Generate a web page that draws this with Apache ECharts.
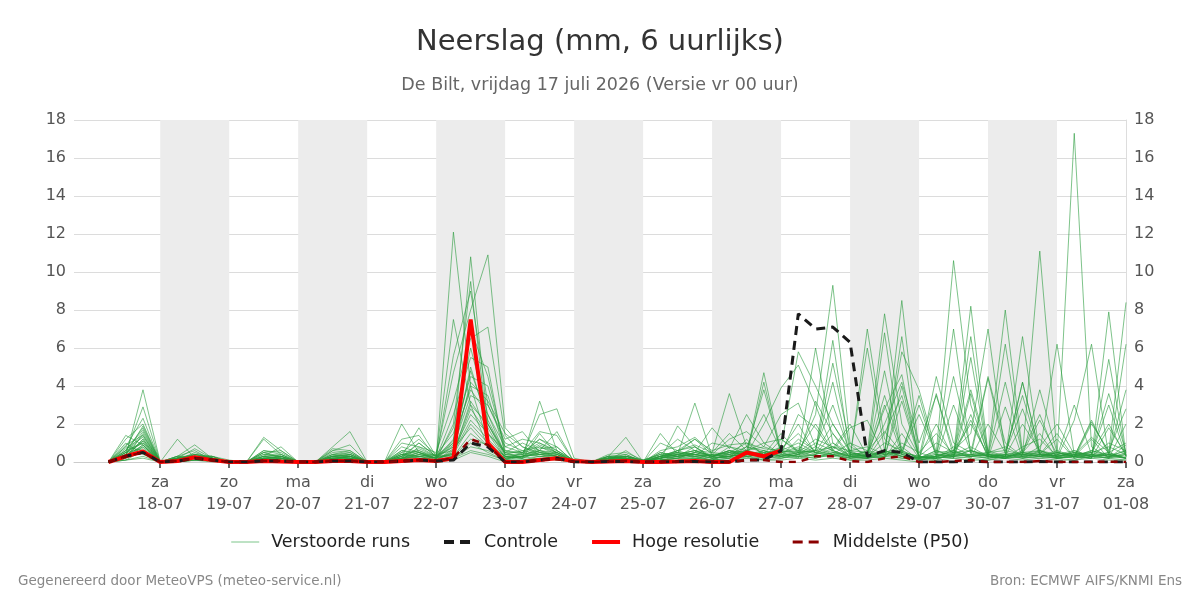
<!DOCTYPE html>
<html>
<head>
<meta charset="utf-8">
<title>Neerslag</title>
<script src="https://cdn.jsdelivr.net/npm/echarts@6/dist/echarts.min.js"></script>
<style>
  html, body { margin: 0; padding: 0; background: #fff; }
  #chart { width: 1200px; height: 600px; }
</style>
</head>
<body>
<div id="chart"></div>
<script>
// 6-hourly steps, first value = vr 17-07 06:00 UTC
const weekdays = ['zo', 'ma', 'di', 'wo', 'do', 'vr', 'za'];
const shadedDays = ['2026-07-18', '2026-07-20', '2026-07-22', '2026-07-24', '2026-07-26', '2026-07-28', '2026-07-30'];

// Hoge resolutie (runs until 27-07 00:00)
const hres = [0,0.3,0.55,0, 0.05,0.25,0.1,0, 0,0.05,0.02,0, 0,0.05,0.05,0, 0,0.05,0.1,0.05,
  0.2,7.5,1.0,0, 0,0.1,0.2,0.05, 0,0.02,0.05,0, 0,0.02,0.05,0, 0,0.5,0.3,0.6];

// Controle
const controle = [0,0.3,0.5,0, 0.05,0.2,0.1,0, 0,0.05,0.05,0, 0,0.05,0.05,0, 0,0.05,0.1,0.05,
  0.1,1.0,0.8,0, 0,0.1,0.2,0, 0,0.02,0.02,0, 0,0.02,0.02,0, 0,0.1,0.1,0.6,
  7.8,7.0,7.1,6.3, 0.3,0.6,0.5,0, 0,0,0.05,0, 0,0,0.02,0, 0,0,0,0];

// Middelste (P50)
const p50 = [0,0.3,0.5,0, 0.05,0.2,0.1,0, 0,0.05,0.05,0, 0,0.05,0.05,0, 0,0.05,0.1,0.05,
  0.2,1.2,0.9,0, 0,0.1,0.15,0, 0,0.02,0.05,0, 0,0.02,0.02,0, 0,0.1,0.1,0,
  0,0.3,0.3,0.05, 0,0.2,0.3,0, 0,0.05,0.1,0, 0,0,0.05,0, 0,0,0.02,0];

// Verstoorde runs
const perturbedRuns = [
  [0,0.3,3.8,0, 0.1,0.3,0.1,0, 0,0.2,0.1,0, 0,0.3,0.2,0, 0,0.4,0.3,0.1, 12.1,4.0,1.0,0.2, 0.3,0.8,0.5,0, 0,0.1,0.2,0, 0.2,0.4,0.3,0.1, 0.5,1.0,0.4,0.8, 5.8,4.0,2.0,0.5, 0.3,1.0,0.6,0.2, 0.5,10.6,3.0,0.4, 0.2,0.8,1.2,0.3, 0.5,0.3,1.0,0.6],
  [0,0.5,2.9,0, 1.2,0.2,0.1,0, 0,0.5,0.3,0, 0,0.1,0.2,0, 0,2.0,0.5,0.2, 1.0,10.8,2.0,0.3, 0.2,1.5,0.4,0, 0,0.2,0.1,0, 0.1,1.9,0.8,0.2, 0.3,0.6,0.2,1.2, 0.5,2.5,9.3,1.0, 0.2,0.5,0.8,0.1, 0.3,0.6,1.5,7.0, 0.4,0.2,0.6,0.2, 0.3,2.1,0.5,8.4],
  [0,0.8,2.3,0, 0.3,0.9,0.2,0, 0,1.3,0.6,0, 0,0.2,0.1,0, 0,0.3,1.8,0.3, 7.5,3.0,0.8,0.1, 0.5,0.3,0.2,0, 0,0.3,1.3,0, 0.3,0.5,0.4,0.2, 0.8,0.4,4.7,0.5, 0.3,0.4,1.5,0.2, 7.0,1.2,0.4,0.1, 0.2,0.4,8.2,0.5, 0.8,0.3,0.4,0.3, 17.3,0.8,0.2,0.4],
  [0,1.4,0.9,0, 0.2,0.3,0.3,0.1, 0,0.1,0.2,0, 0,0.8,1.6,0, 0,0.4,0.2,0.1, 2.0,9.5,1.5,0.5, 0.2,3.2,0.6,0.1, 0,0.1,0.2,0, 1.5,0.4,3.1,0.3, 0.4,0.8,0.6,0.3, 1.2,0.6,6.4,0.4, 0.5,7.8,2.0,0.3, 0.1,0.5,0.3,4.4, 0.6,0.4,0.5,6.2, 0.4,0.5,2.0,0.3],
  [0,1.2,2.0,0, 0.1,0.4,0.2,0, 0,0.3,0.8,0, 0,0.6,0.9,0, 0,1.2,1.4,0.2, 5.6,9.0,3.0,1.2, 1.6,0.5,0.3,0, 0,0.2,0.3,0.1, 0.4,1.2,0.6,0.5, 3.6,0.8,0.5,0.2, 0.4,6.0,1.0,0.3, 0.6,0.4,8.5,0.5, 0.2,0.3,0.6,0.4, 8.0,0.5,0.3,0.2, 0.6,0.3,0.5,0.2],
  [0,0.6,1.8,0, 0.2,0.2,0.1,0, 0,1.2,0.4,0, 0,0.3,0.5,0, 0,0.2,1.0,0.3, 4.7,8.0,10.9,1.8, 0.8,0.4,0.3,0, 0,0.1,0.1,0, 0.5,0.3,0.4,0.3, 0.6,0.5,0.3,0.6, 1.0,0.5,0.8,0.3, 6.0,0.6,0.3,0.2, 4.5,1.0,0.5,0.3, 0.2,6.6,0.4,0.3, 0.2,0.4,0.3,0.2],
  [0,0.4,1.6,0, 0.1,0.3,0.2,0, 0,0.6,0.5,0, 0,0.2,0.3,0, 0,0.1,0.8,0.5, 3.2,6.5,7.1,1.4, 0.4,2.5,2.8,0.2, 0,0.2,0.3,0, 0.3,0.6,0.8,0.3, 0.5,0.4,2.0,3.9, 5.1,3.0,0.6,0.3, 0.2,6.8,0.5,0.3, 0.2,7.0,0.4,0.2, 0.3,0.4,11.1,0.5, 0.3,0.6,0.3,0.4],
  [0,0.9,1.4,0, 0.2,0.2,0.2,0, 0,0.1,0.2,0, 0,0.4,0.6,0, 0,0.6,0.4,0.2, 2.5,5.5,5.0,0.3, 0.2,0.6,0.5,0, 0,0.4,0.5,0.1, 0.2,0.3,0.5,1.8, 0.7,2.5,1.0,0.4, 0.3,0.6,5.2,0.8, 0.4,0.5,6.6,0.2, 0.6,0.3,6.6,0.4, 0.3,4.2,0.5,0.3, 0.4,0.2,5.4,0.3],
  [0,0.2,1.2,0, 0,0.4,0.3,0, 0,0.2,0.1,0, 0,0.1,0.4,0, 0,0.2,0.3,0.4, 1.5,4.5,4.0,0.8, 1.2,1.0,0.6,0.1, 0,0.2,0.2,0, 0.6,0.8,1.3,0.5, 1.5,0.6,3.8,0.5, 0.2,0.4,0.7,2.0, 0.3,0.5,5.8,3.8, 0.5,0.6,0.3,0.4, 0.2,0.5,0.4,0.3, 3.0,0.4,0.2,6.2],
  [0,0.5,1.0,0, 0.2,0.7,0.2,0, 0,0.4,0.3,0, 0,0.3,0.2,0, 0,0.3,0.6,0.3, 1.0,4.0,3.5,0.5, 0.5,1.6,1.4,0, 0,0.3,0.4,0, 0.1,0.2,0.5,0.4, 0.3,0.4,0.2,0.8, 0.4,1.0,0.6,0.2, 0.4,2.8,4.6,0.1, 3.6,0.3,2.5,0.2, 0.3,4.2,0.4,1.5, 0.2,2.0,0.6,2.8],
  [0,0.3,0.9,0, 0.1,0.2,0.1,0, 0,0.2,0.1,0, 0,0.2,0.1,0, 0,0.5,0.3,0.2, 0.8,3.5,3.0,1.0, 0.6,0.4,0.3,0, 0,0.1,0.6,0, 1.0,0.6,0.3,0.4, 1.2,1.6,0.8,2.5, 3.1,0.8,0.4,0.2, 0.3,2.0,4.2,1.0, 3.5,0.6,0.2,2.0, 0.5,0.3,0.8,2.0, 0.4,0.3,0.2,0.5],
  [0,0.6,1.7,0, 0.3,0.3,0.2,0, 0,0.5,0.2,0, 0,0.4,0.3,0, 0,0.2,0.5,0.1, 0.5,3.0,2.0,0.4, 0.3,0.7,0.8,0, 0,0.2,0.1,0, 0.2,0.4,0.6,0.3, 0.6,0.3,0.4,0.5, 0.8,0.5,0.3,0.6, 0.2,0.3,0.5,0.1, 0.3,0.4,0.8,0.3, 0.2,0.3,0.4,0.2, 2.2,6.2,0.3,0.6],
  [0,0.1,0.6,0, 0.1,0.1,0.1,0, 0,0.1,0.1,0, 0,0.1,0.1,0, 0,0.1,0.2,0.1, 0.6,2.5,1.5,0.2, 0.2,0.5,0.4,0, 0,0.1,0.1,0, 0.1,0.3,0.4,0.2, 0.3,0.4,0.3,0.2, 0.4,0.6,4.2,0.3, 0.2,0.4,0.6,0.2, 0.3,4.5,0.6,0.3, 6.2,0.4,0.3,0.5, 0.3,0.2,7.9,0.3],
  [0,0.4,0.8,0, 0.2,0.2,0.1,0, 0,0.3,0.2,0, 0,0.2,0.2,0, 0,0.1,0.4,0.2, 0.4,2.0,1.0,0.3, 0.4,0.6,0.3,0, 0,0.2,0.2,0, 0.1,0.2,0.3,0.1, 0.4,0.2,0.6,0.3, 0.6,0.3,0.5,0.4, 0.3,3.0,0.4,3.5, 0.2,3.0,0.5,4.5, 1.0,0.3,3.8,0.5, 0.3,1.2,0.2,0.9],
  [0,0.7,1.3,0, 0.1,0.5,0.2,0, 0,0.2,0.3,0, 0,0.5,0.4,0, 0,0.8,0.5,0.3, 0.3,1.5,0.8,0.1, 0.3,0.4,0.5,0.1, 0,0.3,0.2,0, 0.3,0.5,0.2,0.4, 0.2,0.8,2.5,0.6, 2.0,0.4,0.6,0.3, 0.4,0.2,1.5,0.2, 0.3,0.6,2.0,0.4, 0.3,2.0,0.6,0.3, 0.5,0.3,0.4,3.8],
  [0,0.2,0.5,0, 0,0.1,0.1,0, 0,0.1,0,0, 0,0.1,0.1,0, 0,0.2,0.1,0, 0.2,1.0,0.5,0.1, 0.1,0.3,0.2,0, 0,0.1,0.1,0, 0.1,0.2,0.2,0.1, 0.2,0.3,0.1,0.2, 0.3,0.2,0.4,0.1, 0.2,0.3,0.2,0.1, 0.2,0.3,0.2,0.1, 0.3,0.2,0.3,0.2, 0.1,0.3,0.2,0.1],
  [0,0.3,1.1,0, 0.2,0.3,0.3,0, 0,0.6,0.4,0, 0,0.7,0.6,0, 0,0.3,1.0,0.3, 0.4,2.8,1.5,0.6, 0.5,1.2,0.6,0, 0,0.2,0.3,0.1, 0.4,0.3,0.8,0.2, 0.3,0.5,0.4,1.5, 0.5,1.2,0.8,0.6, 0.5,0.4,0.3,0.2, 0.4,0.2,3.6,0.3, 0.4,0.5,1.5,0.2, 0.3,0.6,0.4,0.2],
  [0,1.0,0.4,0, 0.1,0.1,0.2,0, 0,0.2,0.2,0, 0,0.1,0.3,0, 0,0.2,0.2,0.1, 0.2,0.8,0.6,0.2, 0.3,0.4,0.3,0.1, 0,0.1,0.1,0, 0.3,0.4,0.3,1.0, 0.8,0.6,0.4,0.3, 0.2,3.2,1.5,0.4, 0.3,0.5,0.2,0.3, 2.0,0.2,5.5,0.3, 0.2,0.6,2.5,0.2, 0.4,1.3,0.5,1.0],
  [0,0.2,1.5,0, 0.3,0.6,0.1,0, 0,0.3,0.2,0, 0,0.3,0.3,0, 0,0.4,0.6,0.2, 1.2,3.8,2.5,0.8, 0.5,1.0,0.5,0, 0,0.3,0.2,0, 0.2,0.6,1.2,0.6, 0.9,1.0,0.7,0.6, 0.4,0.8,3.0,0.5, 0.3,0.2,4.0,0.3, 0.2,0.8,0.3,0.4, 0.3,0.5,0.6,0.4, 0.2,0.4,3.6,0.5],
  [0,0.5,0.7,0, 0.2,0.2,0.1,0, 0,0.1,0.1,0, 0,0.2,0.2,0, 0,0.3,0.2,0.1, 0.3,1.2,0.9,0.3, 0.2,0.3,0.2,0, 0,0.1,0.2,0, 0.2,0.3,0.3,0.2, 0.3,0.4,0.5,0.3, 0.5,0.3,0.4,0.2, 0.2,1.5,3.5,0.3, 0.2,0.4,0.3,0.2, 2.9,0.2,0.4,1.2, 0.2,0.3,0.2,2.0],
  [0,0.1,0.3,0, 0,0.1,0,0, 0,0,0.1,0, 0,0.1,0,0, 0,0.1,0.1,0, 0.1,0.5,0.3,0, 0.1,0.2,0.1,0, 0,0,0.1,0, 0.1,0.1,0.2,0.1, 0.1,0.2,0.1,0.1, 0.2,0.1,0.2,0.1, 0.1,0.2,0.1,0, 0.1,0.2,0.1,0.1, 0.2,0.1,0.2,0.1, 0.1,0.2,0.1,0.1],
  [0,0.4,1.9,0, 0.2,0.4,0.2,0, 0,0.4,0.3,0, 0,0.6,0.5,0, 0,1.0,0.8,0.3, 0.8,5.0,2.0,0.5, 1.0,0.6,1.6,0, 0,0.2,0.4,0, 0.5,0.3,0.5,0.3, 0.6,0.3,4.2,0.4, 2.5,1.8,0.5,0.3, 0.4,3.5,0.6,3.0, 0.4,0.3,0.4,0.3, 4.2,0.4,0.3,0.6, 0.3,0.5,0.8,0.4],
  [0,0.6,1.0,0, 0.1,0.3,0.2,0, 0,0.5,0.6,0, 0,0.3,0.4,0, 0,0.5,1.2,0.4, 0.6,4.2,3.2,1.5, 0.8,0.5,0.4,0, 0,0.3,0.3,0.1, 0.3,0.6,0.9,0.5, 0.4,0.6,0.8,0.5, 0.6,0.5,2.0,0.6, 0.8,0.4,0.5,0.3, 1.0,0.5,3.8,0.6, 0.3,0.4,0.6,0.3, 0.5,0.4,3.0,0.3],
  [0,0.2,0.8,0, 0.2,0.2,0.1,0, 0,0.2,0.3,0, 0,0.2,0.3,0, 0,0.2,0.4,0.2, 0.5,2.2,1.2,0.3, 0.3,0.4,0.2,0, 0,0.2,0.2,0, 0.2,0.4,0.6,0.3, 0.2,1.2,0.3,0.4, 0.3,0.2,0.5,0.3, 0.2,0.5,0.4,0.2, 0.3,0.2,0.3,0.2, 0.4,0.2,0.3,0.2, 0.3,0.2,0.4,0.2],
  [0,0.3,1.2,0, 0.1,0.3,0.2,0, 0,0.3,0.2,0, 0,0.4,0.3,0, 0,0.6,0.5,0.2, 1.8,6.0,2.5,0.4, 0.6,0.8,0.4,0, 0,0.2,0.2,0, 0.4,0.5,1.2,0.4, 0.5,0.6,1.0,1.2, 0.6,2.0,0.6,1.8, 2.2,0.3,3.2,0.2, 0.4,0.5,0.6,0.3, 0.2,0.5,2.2,0.4, 0.6,0.3,0.4,0.2],
  [0,0.8,0.6,0, 0.1,0.2,0.3,0, 0,0.1,0.2,0, 0,0.3,0.2,0, 0,0.2,0.3,0.1, 0.7,1.8,0.8,0.2, 0.3,0.5,0.3,0, 0,0.1,0.2,0, 0.2,0.3,0.4,0.2, 0.3,0.4,0.3,0.5, 0.7,0.4,1.0,0.5, 0.3,0.6,0.3,0.2, 0.3,0.5,0.4,0.3, 0.4,0.3,0.5,0.2, 0.3,0.4,0.3,0.2],
  [0,0.1,0.2,0, 0,0.1,0.1,0, 0,0.1,0,0, 0,0.1,0.1,0, 0,0.1,0.1,0, 0.2,0.6,0.4,0.1, 0.1,0.2,0.1,0, 0,0.1,0.1,0, 0.1,0.2,0.2,0.1, 0.2,0.3,0.2,0.3, 0.4,0.3,0.3,0.2, 0.3,4.8,0.4,0.2, 0.2,0.3,2.2,0.3, 0.2,0.3,0.2,0.4, 0.3,0.2,1.8,0.4],
  [0,0.4,1.4,0, 0.2,0.4,0.2,0, 0,0.3,0.4,0, 0,0.2,0.3,0, 0,0.3,0.7,0.3, 1.1,7.0,4.5,0.6, 0.4,0.9,0.5,0, 0,0.2,0.2,0, 0.2,0.5,0.4,0.3, 0.5,0.3,0.5,0.6, 0.5,0.6,0.8,0.4, 0.5,0.3,1.0,0.5, 1.5,0.4,0.3,0.5, 0.6,3.5,0.4,0.3, 0.4,0.5,0.3,0.6],
  [0,0.2,0.9,0, 0.1,0.2,0.1,0, 0,0.2,0.2,0, 0,0.2,0.2,0, 0,0.4,0.3,0.2, 0.4,3.2,1.8,0.2, 0.3,0.6,0.4,0, 0,0.2,0.3,0, 0.3,0.2,0.5,0.3, 0.4,0.5,0.4,0.7, 1.5,0.5,0.4,0.3, 0.3,0.6,0.3,0.2, 0.6,0.3,0.4,0.5, 0.3,0.4,0.3,0.5, 0.3,2.2,0.4,0.3],
  [0,0.5,1.1,0, 0.3,0.2,0.2,0, 0,0.2,0.3,0, 0,0.3,0.4,0, 0,0.2,0.5,0.2, 0.9,4.8,2.2,0.4, 0.4,1.2,0.8,0, 0,0.2,0.3,0, 0.3,0.4,0.6,0.3, 0.6,0.4,0.6,0.3, 0.5,0.6,0.4,1.0, 0.6,1.6,0.5,2.5, 0.4,0.3,0.6,0.3, 0.5,2.8,0.3,0.5, 0.4,0.3,0.5,0.2]
];

// x categories: 16-07 18:00 UTC .. 01-08 00:00 UTC in 6-hour steps
const startTime = Date.UTC(2026, 6, 16, 18);
const stepMs = 6 * 3600 * 1000;
const nSteps = 62;
const categories = [];
for (let i = 0; i < nSteps; i++) {
  categories.push(new Date(startTime + i * stepMs).toISOString().slice(0, 13));
}
const lead = [null, null]; // no data for 16-07 18:00 and 17-07 00:00

function isDayTick(value) {
  return value.slice(11, 13) === '00' && value.slice(0, 10) !== '2026-07-17';
}
function dayLabel(value) {
  const d = new Date(value + ':00:00Z');
  return weekdays[d.getUTCDay()] + '\n' + value.slice(8, 10) + '-' + value.slice(5, 7);
}
function nextDay(day) {
  const d = new Date(day + 'T00:00:00Z');
  d.setUTCDate(d.getUTCDate() + 1);
  return d.toISOString().slice(0, 10);
}

const bands = shadedDays.map(day => [{ xAxis: day + 'T00' }, { xAxis: nextDay(day) + 'T00' }]);

const series = perturbedRuns.map((run, i) => ({
  name: 'Verstoorde runs',
  type: 'line',
  data: lead.concat(run),
  symbol: 'none',
  color: 'rgba(40,155,60,0.6)',
  lineStyle: { width: 1, color: 'rgba(40,155,60,0.6)' },
  z: 2,
  markArea: i === 0 ? { silent: true, itemStyle: { color: '#ececec' }, data: bands } : undefined
}));

series.push({
  name: 'Hoge resolutie',
  type: 'line',
  data: lead.concat(hres),
  symbol: 'none',
  color: '#ff0000',
  lineStyle: { width: 4, color: '#ff0000' },
  z: 4
});
series.push({
  name: 'Controle',
  type: 'line',
  data: lead.concat(controle),
  symbol: 'none',
  color: '#1a1a1a',
  lineStyle: { width: 3, type: [9, 6], color: '#1a1a1a' },
  z: 5
});
series.push({
  name: 'Middelste (P50)',
  type: 'line',
  data: lead.concat(p50),
  symbol: 'none',
  color: '#8b0000',
  lineStyle: { width: 2.5, type: [7, 6], color: '#8b0000' },
  z: 6
});

const chart = echarts.init(document.getElementById('chart'));
const yAxisCommon = {
  type: 'value',
  min: 0,
  max: 18,
  interval: 2,
  axisLabel: { fontSize: 16, color: '#555', margin: 8 },
  axisTick: { show: false },
  splitLine: { lineStyle: { color: '#dcdcdc' } }
};

chart.setOption({
  animation: false,
  textStyle: { fontFamily: 'DejaVu Sans' },
  title: [
    { text: 'Neerslag (mm, 6 uurlijks)', left: 'center', top: 23,
      textStyle: { fontSize: 29, fontWeight: 'normal', color: '#333' } },
    { text: 'De Bilt, vrijdag 17 juli 2026 (Versie vr 00 uur)', left: 'center', top: 71,
      textStyle: { fontSize: 17.5, fontWeight: 'normal', color: '#666' } },
    { text: 'Gegenereerd door MeteoVPS (meteo-service.nl)', left: 13, top: 569,
      textStyle: { fontSize: 13.5, fontWeight: 'normal', color: '#888' } },
    { text: 'Bron: ECMWF AIFS/KNMI Ens', right: 13, top: 569,
      textStyle: { fontSize: 13.5, fontWeight: 'normal', color: '#888' } }
  ],
  legend: {
    data: [
      { name: 'Verstoorde runs', lineStyle: { width: 1, color: '#7cc58a' } },
      { name: 'Controle', lineStyle: { width: 4, type: [10, 6], color: '#1a1a1a' } },
      { name: 'Hoge resolutie', lineStyle: { width: 4, color: '#ff0000' } },
      { name: 'Middelste (P50)', lineStyle: { width: 3, type: [10, 6], color: '#8b0000' } }
    ],
    top: 528,
    left: 'center',
    itemWidth: 28,
    itemHeight: 14,
    itemGap: 32,
    itemStyle: { opacity: 0 },
    textStyle: { fontSize: 17.5, color: '#222', padding: [0, 0, 0, 7] }
  },
  grid: { left: 74, right: 74, top: 120, bottom: 138, containLabel: false },
  xAxis: {
    type: 'category',
    boundaryGap: false,
    data: categories,
    axisLine: { lineStyle: { color: '#ccc' } },
    axisTick: {
      interval: (idx, value) => isDayTick(value),
      length: 6,
      lineStyle: { color: '#666', width: 2 }
    },
    axisLabel: {
      interval: (idx, value) => isDayTick(value),
      formatter: value => dayLabel(value),
      fontSize: 16,
      color: '#555',
      lineHeight: 22,
      margin: 10
    },
    splitLine: { show: false }
  },
  yAxis: [
    Object.assign({}, yAxisCommon, { position: 'left', axisLine: { show: false } }),
    Object.assign({}, yAxisCommon, { position: 'right', axisLine: { show: true, lineStyle: { color: '#ddd' } } })
  ],
  series: series
});
</script>
</body>
</html>
